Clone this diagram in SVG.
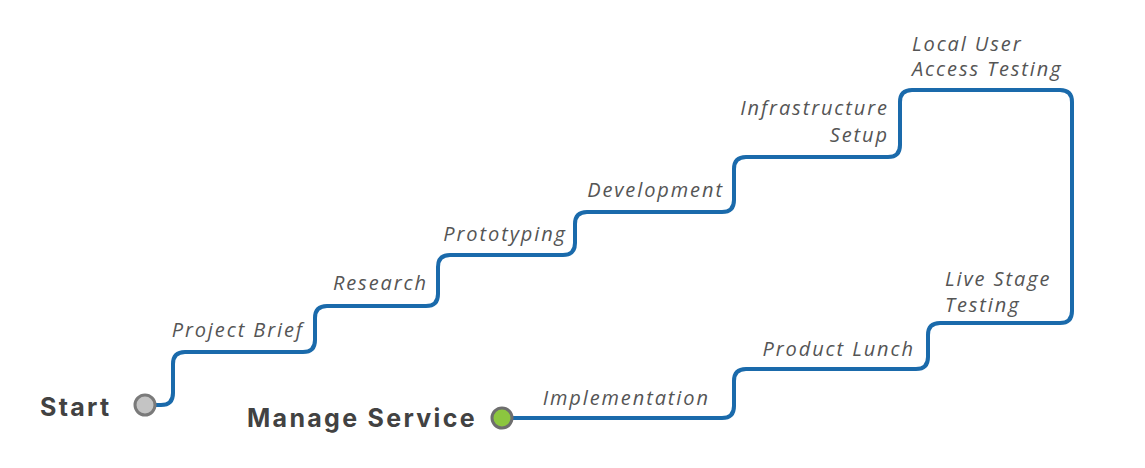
<svg xmlns="http://www.w3.org/2000/svg" width="1145" height="468" viewBox="0 0 1145 468">
<style>
.lbl{font-family:"Open Sans","Liberation Sans",sans-serif;font-style:italic;font-size:20px;letter-spacing:1.9px;fill:#555555}
.end{font-family:Inter,"Liberation Sans",sans-serif;font-weight:700;font-size:25px;letter-spacing:2.3px;fill:#424242}
.route{fill:none;stroke:#1a6aab;stroke-width:4;stroke-linejoin:round;stroke-linecap:round}
</style>
<rect width="1145" height="468" fill="#ffffff"/>
<g id="connectors">
<path class="route" d="M155,405 H161 Q173,405 173,393 V364 Q173,352 185,352 H303 Q315,352 315,340 V318 Q315,306 327,306 H426 Q438,306 438,294 V267 Q438,255 450,255 H563 Q575,255 575,243 V224 Q575,212 587,212 H722 Q734,212 734,200 V169 Q734,157 746,157 H888 Q900,157 900,145 V102 Q900,90 912,90 H1060 Q1072,90 1072,102 V311 Q1072,323 1060,323 H940 Q928,323 928,335 V357 Q928,369 916,369 H746 Q734,369 734,381 V406 Q734,418 722,418 H512"/>
</g>
<g id="start">
<circle cx="145" cy="405" r="10" fill="#c4c4c4" stroke="#7a7a7a" stroke-width="3"/>
<text class="end" x="40" y="416">Start</text>
</g>
<g id="manage-service">
<circle cx="502" cy="418" r="10" fill="#8cc63f" stroke="#6e6e6e" stroke-width="3"/>
<text class="end" x="247" y="427">Manage Service</text>
</g>
<g id="project-brief"><text class="lbl" x="303.9" y="337" text-anchor="end">Project Brief</text></g>
<g id="research"><text class="lbl" x="427.9" y="290" text-anchor="end">Research</text></g>
<g id="prototyping"><text class="lbl" x="566.9" y="241" text-anchor="end">Prototyping</text></g>
<g id="development"><text class="lbl" x="723.9" y="197" text-anchor="end">Development</text></g>
<g id="infrastructure-setup"><text class="lbl" x="888.9" y="115" text-anchor="end">Infrastructure</text><text class="lbl" x="888.9" y="142" text-anchor="end">Setup</text></g>
<g id="local-user-access-testing"><text class="lbl" x="912" y="51">Local User</text><text class="lbl" x="912" y="76">Access Testing</text></g>
<g id="live-stage-testing"><text class="lbl" x="945" y="286">Live Stage</text><text class="lbl" x="945" y="312">Testing</text></g>
<g id="product-lunch"><text class="lbl" x="914.9" y="356" text-anchor="end">Product Lunch</text></g>
<g id="implementation"><text class="lbl" x="709.9" y="405" text-anchor="end">Implementation</text></g>
</svg>
